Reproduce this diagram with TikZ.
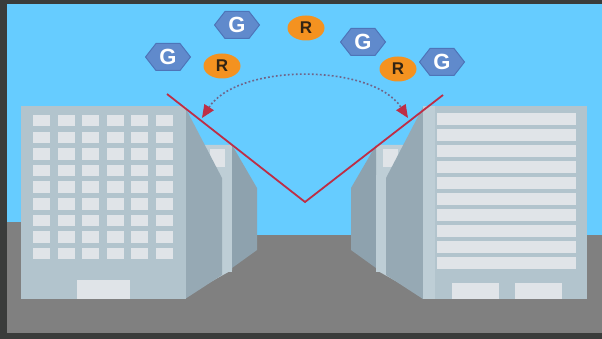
\documentclass[tikz,border=0pt]{standalone}
\usepackage{fontspec}
\setmainfont{Liberation Sans}
\usetikzlibrary{shapes.geometric,arrows.meta}
\definecolor{frame}{RGB}{58,60,59}
\definecolor{sky}{RGB}{102,204,255}
\definecolor{ground}{RGB}{128,128,128}
\definecolor{facade}{RGB}{178,196,205}
\definecolor{facadelt}{RGB}{190,206,214}
\definecolor{sideface}{RGB}{150,169,180}
\definecolor{sidefacedk}{RGB}{142,162,174}
\definecolor{pane}{RGB}{224,228,232}
\definecolor{hexblue}{RGB}{96,138,204}
\definecolor{hexedge}{RGB}{78,116,184}
\definecolor{routerorange}{RGB}{244,146,32}
\definecolor{routertext}{RGB}{50,36,20}
\definecolor{beamred}{RGB}{190,46,70}
\definecolor{arcgray}{RGB}{112,100,136}
\tikzset{
  gnode/.style={minimum width=46, minimum height=28, inner sep=0pt,
    text=white, font=\bfseries\fontsize{22}{22}\selectfont,
    path picture={
      \draw[fill=hexblue, draw=hexedge, line width=1]
        ([xshift=0.5]path picture bounding box.west)
        -- ([xshift=11,yshift=-0.5]path picture bounding box.north west)
        -- ([xshift=-11,yshift=-0.5]path picture bounding box.north east)
        -- ([xshift=-0.5]path picture bounding box.east)
        -- ([xshift=-11,yshift=0.5]path picture bounding box.south east)
        -- ([xshift=11,yshift=0.5]path picture bounding box.south west)
        -- cycle;}},
  rnode/.style={ellipse, fill=routerorange, minimum width=37, minimum height=25,
    inner sep=0pt, text=routertext, font=\bfseries\fontsize{17}{17}\selectfont},
  beam/.style={draw=beamred, line width=1.8, line join=miter},
  swing/.style={draw=arcgray, line width=1.6, dash pattern=on 1.8pt off 2.2pt,
    {Triangle[length=13,width=11,fill=beamred,color=beamred]}-{Triangle[length=13,width=11,fill=beamred,color=beamred]}},
}
\begin{document}
\begin{tikzpicture}[x=1pt,y=-1pt]
\useasboundingbox (0,0) rectangle (602,339);
% frame, sky and street
\fill[frame] (0,0) rectangle (602,339);
\fill[sky] (7,4) rectangle (602,235);
\fill[ground] (7,235) rectangle (602,333);
\fill[ground] (7,222) rectangle (21,235);

% ---- left block: rear tower ----
\fill[facadelt] (205,145) -- (232,145) -- (232,270) -- (205,285) -- cycle;
\fill[pane] (210,149) rectangle (225,167);
\fill[sidefacedk] (232,145) -- (257,188) -- (257,250) -- (232,268) -- cycle;
\fill[facadelt] (222,175) rectangle (232,272);
% ---- left block: main tower ----
\fill[sideface] (185,107) -- (222,178) -- (222,275) -- (185,299) -- cycle;
\fill[facade] (21,106) rectangle (186,299);
\foreach \c in {0,...,5}
  \foreach \r in {0,...,8}
    \fill[pane] ({33+24.5*\c},{115+16.6*\r}) rectangle ++(17,11.5);
\fill[pane] (77,280) rectangle (130,299);

% ---- right block: rear tower ----
\fill[facadelt] (403,145) -- (376,145) -- (376,270) -- (403,285) -- cycle;
\fill[pane] (398,149) rectangle (383,167);
\fill[sidefacedk] (376,145) -- (351,188) -- (351,250) -- (376,268) -- cycle;
\fill[facadelt] (386,175) rectangle (376,272);
% ---- right block: main tower ----
\fill[sideface] (423,107) -- (386,178) -- (386,275) -- (423,299) -- cycle;
\fill[facade] (423,106) rectangle (587,299);
\fill[facadelt] (423,106) rectangle (435,299);
\foreach \r in {0,...,9}
  \fill[pane] (437,{113+16*\r}) rectangle ++(139,12);
\fill[pane] (452,283) rectangle (499,299);
\fill[pane] (515,283) rectangle (562,299);

% ---- reflected signal path ----
\coordinate (beamL) at (167,94);
\coordinate (beamV) at (305,202);
\coordinate (beamR) at (443,95);
\draw[beam] (beamL) -- (beamV) -- (beamR);

\coordinate (swingL) at (202,118);
\coordinate (swingR) at (408,118);
\draw[swing] (swingL) .. controls (238,63) and (372,63) .. (swingR);

% ---- G / R markers ----
\node[gnode] (g1) at (168,57) {G};
\node[gnode] (g2) at (237,25) {G};
\node[gnode] (g3) at (363,42) {G};
\node[gnode] (g4) at (442,62) {G};
\node[rnode] (r1) at (306,28) {R};
\node[rnode] (r2) at (222,66) {R};
\node[rnode] (r3) at (398,69) {R};
\end{tikzpicture}
\end{document}
